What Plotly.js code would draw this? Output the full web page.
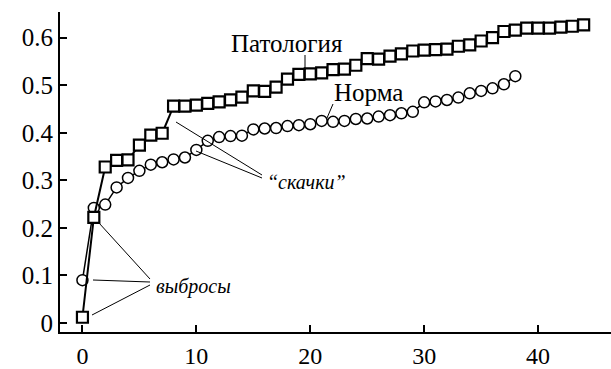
<!DOCTYPE html>
<html>
<head>
<meta charset="utf-8">
<script src="https://cdn.plot.ly/plotly-3.0.1.min.js"></script>
<style>
html,body{margin:0;padding:0;background:#fff;}
#chart{width:611px;height:369px;}
</style>
</head>
<body>
<div id="chart"></div>
<script>
// Патология (squares)
var patX = [0,1,2,3,4,5,6,7,8,9,10,11,12,13,14,15,16,17,18,19,20,21,22,23,24,25,26,27,28,29,30,31,32,33,34,35,36,37,38,39,40,41,42,43,44];
var patY = [0.012,0.222,0.328,0.342,0.343,0.374,0.395,0.399,0.456,0.456,0.458,0.462,0.465,0.469,0.475,0.488,0.487,0.496,0.513,0.523,0.524,0.526,0.533,0.534,0.542,0.556,0.555,0.561,0.566,0.572,0.574,0.575,0.576,0.582,0.585,0.593,0.600,0.613,0.616,0.620,0.620,0.620,0.622,0.624,0.627];
// Норма (circles)
var normX = [0,1,2,3,4,5,6,7,8,9,10,11,12,13,14,15,16,17,18,19,20,21,22,23,24,25,26,27,28,29,30,31,32,33,34,35,36,37,38];
var normY = [0.090,0.242,0.249,0.285,0.305,0.320,0.333,0.338,0.344,0.348,0.364,0.383,0.391,0.393,0.394,0.407,0.409,0.410,0.414,0.416,0.418,0.425,0.423,0.425,0.429,0.430,0.434,0.437,0.441,0.444,0.464,0.466,0.469,0.474,0.483,0.488,0.4935,0.502,0.519];
var xTicks = [0,10,20,30,40];
var yTicks = [0,0.1,0.2,0.3,0.4,0.5,0.6];
var yTickText = ['0','0.1','0.2','0.3','0.4','0.5','0.6'];

var W = 611, H = 369, ML = 60, MR = 0, MT = 12, MB = 37;
var FAMILY = '"Liberation Serif", "Times New Roman", "DejaVu Serif", serif';
function px(x){ return (x - ML) / (W - ML - MR); }
function py(y){ return (H - MB - y) / (H - MT - MB); }
function seg(x0,y0,x1,y1){
  return {type:'line', xref:'paper', yref:'paper', x0:px(x0), y0:py(y0), x1:px(x1), y1:py(y1),
          line:{color:'#000', width:1}};
}
function label(text, x, y, size, italic){
  return {text:text, xref:'paper', yref:'paper', x:px(x), y:py(y), xanchor:'center', yanchor:'middle',
          showarrow:false, font:{family:FAMILY, size:size, color:'#000', style: italic ? 'italic' : 'normal'}};
}

var traces = [
  {x: normX, y: normY, type:'scatter', mode:'lines+markers', name:'Норма',
   line:{color:'#000', width:1.5},
   marker:{symbol:'circle', size:11, color:'#fff', line:{color:'#000', width:1.5}}},
  {x: patX, y: patY, type:'scatter', mode:'lines+markers', name:'Патология',
   line:{color:'#000', width:2},
   marker:{symbol:'square', size:11, color:'#fff', line:{color:'#000', width:2.2}}}
];

var font = {family:FAMILY, size:24, color:'#000'};
var layout = {
  width: W, height: H,
  margin: {l:ML, r:MR, t:MT, b:MB, pad:0},
  paper_bgcolor:'#fff', plot_bgcolor:'#fff',
  showlegend:false,
  font: font,
  xaxis: {range:[-1.97, 46.4], tickvals:xTicks, ticks:'inside', ticklen:7, tickwidth:2, tickcolor:'#000',
          showline:true, linewidth:2, linecolor:'#000', showgrid:false, zeroline:false,
          tickfont:font, ticklabelstandoff:1},
  yaxis: {range:[-0.019, 0.654], tickvals:yTicks, ticktext:yTickText, ticks:'inside', ticklen:7, tickwidth:2, tickcolor:'#000',
          showline:true, linewidth:2, linecolor:'#000', showgrid:false, zeroline:false,
          tickfont:{family:FAMILY, size:25, color:'#000'}, ticklabelstandoff:0},
  shapes: [
    seg(305,55,305,70),
    seg(333,104,327,118),
    seg(262,175,176,122),
    seg(262,178,196,151),
    seg(150,279,99,223),
    seg(150,282,93,280),
    seg(150,285,92,315)
  ],
  annotations: [
    label('Патология', 287, 43, 25, false),
    label('Норма', 368, 92, 25, false),
    label('“скачки”', 306, 182, 20, true),
    label('выбросы', 193, 286, 20, true)
  ]
};
Plotly.newPlot('chart', traces, layout, {displayModeBar:false, staticPlot:true});
</script>
</body>
</html>
